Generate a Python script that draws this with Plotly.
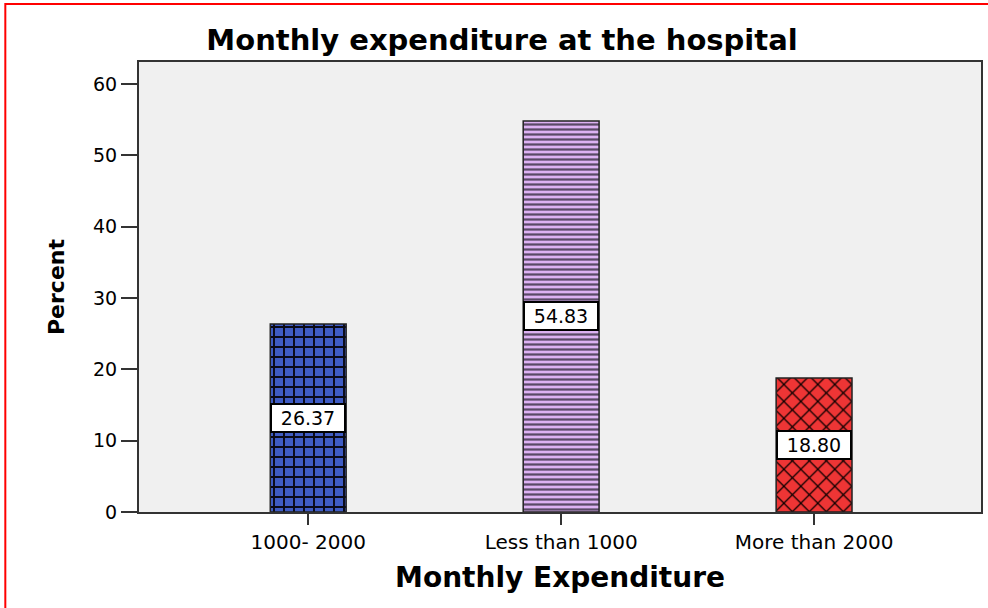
import plotly.graph_objects as go

categories = ["1000- 2000", "Less than 1000", "More than 2000"]
percent = [26.37, 54.83, 18.80]
value_labels = ["26.37", "54.83", "18.80"]
y_ticks = [0, 10, 20, 30, 40, 50, 60]

fill_colors = ["#3F5CC4", "#DDB2F2", "#EE3535"]
pattern_shapes = ["+", "-", "x"]
pattern_fg = ["#0a0a18", "#5a4a66", "#100000"]
pattern_sizes = [10, 5, 12]
pattern_solid = [0.35, 0.45, 0.2]

fig = go.Figure()
for i, cat in enumerate(categories):
    fig.add_trace(go.Bar(
        x=[i],
        y=[percent[i]],
        width=0.30,
        marker=dict(
            color=fill_colors[i],
            line=dict(color="#222222", width=1.5),
            pattern=dict(shape=pattern_shapes[i], fgcolor=pattern_fg[i],
                         fgopacity=1,
                         size=pattern_sizes[i], solidity=pattern_solid[i],
                         fillmode="overlay"),
        ),
        name=cat,
        showlegend=False,
        hoverinfo="skip",
    ))

for i, (v, lab) in enumerate(zip(percent, value_labels)):
    fig.add_annotation(
        x=i, y=v / 2, text=lab, showarrow=False,
        font=dict(family="DejaVu Sans", size=19, color="black"),
        bgcolor="white", bordercolor="black", borderwidth=2, borderpad=2,
        width=68, height=22,
        xref="x", yref="y",
    )

# red frame around picture (top and left visible)
fig.add_shape(type="rect", xref="paper", yref="paper",
              x0=(5 - 139) / 844, x1=1.2, y0=-0.5, y1=(511.5 - 4) / 449.5,
              line=dict(color="#FF0000", width=2), fillcolor="rgba(0,0,0,0)",
              layer="below")

fig.update_layout(
    width=988, height=608,
    margin=dict(l=139, r=5, t=62, b=96),
    paper_bgcolor="white",
    plot_bgcolor="#F0F0F0",
    barmode="overlay",
    title=dict(text="<b>Monthly expenditure at the hospital</b>",
               font=dict(family="DejaVu Sans", size=29, color="black"),
               x=502 / 988, xanchor="center", y=1 - 40 / 608, yanchor="middle"),
    xaxis=dict(
        tickmode="array",
        tickvals=list(range(len(categories))),
        ticktext=categories,
        range=[-0.669, 2.66],
        showline=True, linecolor="#333333", linewidth=2, mirror=True,
        ticks="outside", ticklen=11, tickwidth=2, tickcolor="#333333",
        tickfont=dict(family="DejaVu Sans", size=20, color="black"),
        showgrid=False, zeroline=False,
        title=dict(text="<b>Monthly Expenditure</b>",
                   font=dict(family="DejaVu Sans", size=28, color="black"),
                   standoff=14),
    ),
    yaxis=dict(
        tickmode="array", tickvals=y_ticks,
        range=[0, 63.1],
        showline=True, linecolor="#333333", linewidth=2, mirror=True,
        ticks="outside", ticklen=16, tickwidth=2, tickcolor="#333333",
        tickfont=dict(family="DejaVu Sans", size=19, color="black"),
        showgrid=False, zeroline=False,
        title=dict(text="<b>Percent</b>",
                   font=dict(family="DejaVu Sans", size=22, color="black"),
                   standoff=22),
    ),
)

fig.write_html("out.html", config={"displayModeBar": False},
               post_script="document.body.style.margin='0';document.body.style.padding='0';")
